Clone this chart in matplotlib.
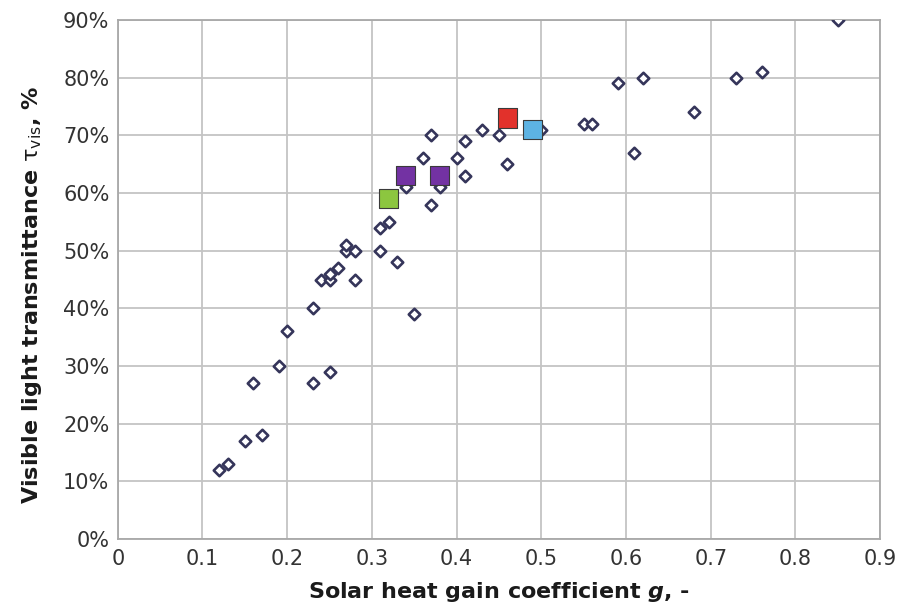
import matplotlib
matplotlib.use("Agg")
import matplotlib.pyplot as plt
from matplotlib.ticker import FuncFormatter

plt.rcParams['font.family'] = ['DejaVu Sans']
plt.rcParams['mathtext.fontset'] = 'custom'
plt.rcParams['mathtext.rm'] = 'DejaVu Sans'
plt.rcParams['mathtext.it'] = 'DejaVu Sans:italic:bold'
plt.rcParams['mathtext.bf'] = 'DejaVu Sans:bold'

# Measured glazing products (g, tau_vis %)
g_values = [0.12, 0.13, 0.15, 0.17, 0.16, 0.19, 0.20, 0.23, 0.25, 0.23,
            0.24, 0.25, 0.25, 0.26, 0.27, 0.27, 0.28, 0.28, 0.31, 0.31,
            0.32, 0.33, 0.35, 0.34, 0.36, 0.37, 0.37, 0.38, 0.40, 0.41,
            0.41, 0.43, 0.45, 0.46, 0.50, 0.55, 0.56, 0.59, 0.62, 0.61,
            0.68, 0.73, 0.76, 0.85]
tvis_values = [12, 13, 17, 18, 27, 30, 36, 27, 29, 40,
               45, 45, 46, 47, 50, 51, 50, 45, 50, 54,
               55, 48, 39, 61, 66, 70, 58, 61, 66, 69,
               63, 71, 70, 65, 71, 72, 72, 79, 80, 67,
               74, 80, 81, 90]

# Highlighted products
hl_g = [0.46, 0.49, 0.34, 0.38, 0.32]
hl_tvis = [73, 71, 63, 63, 59]
hl_colors = ['#e2312b', '#5db3e3', '#7332a3', '#7332a3', '#8cc63f']

x_ticks = [0, 0.1, 0.2, 0.3, 0.4, 0.5, 0.6, 0.7, 0.8, 0.9]
y_ticks = [0, 10, 20, 30, 40, 50, 60, 70, 80, 90]

fig = plt.figure(figsize=(8.99, 6.12), dpi=100)
ax = fig.add_axes([0.131, 0.1193, 0.848, 0.848])

ax.scatter(g_values, tvis_values, marker='D', s=34, facecolors='white',
           edgecolors='#35355a', linewidths=1.9, zorder=3)
ax.scatter(hl_g, hl_tvis, marker='s', s=190, c=hl_colors,
           edgecolors='#3a3a3a', linewidths=0.8, zorder=4)

ax.set_xlim(0, 0.9)
ax.set_ylim(0, 90)
ax.set_xticks(x_ticks)
ax.set_yticks(y_ticks)
ax.xaxis.set_major_formatter(FuncFormatter(lambda v, p: '0' if v == 0 else f'{v:.1f}'))
ax.yaxis.set_major_formatter(FuncFormatter(lambda v, p: f'{v:.0f}%'))
ax.grid(True, color='#c4c4c4', linewidth=1.3)
ax.set_axisbelow(True)
for s in ax.spines.values():
    s.set_color('#a8a8a8')
    s.set_linewidth(1.3)
ax.tick_params(length=0, labelsize=15, colors='#333333', pad=6)
ax.tick_params(axis='x', pad=7)

ax.set_ylabel(r'Visible light transmittance $\mathrm{\tau_{vis}}$, %',
              fontsize=16, fontweight='bold', color='#1a1a1a')
ax.yaxis.set_label_coords(-0.097, 0.47)
ax.set_xlabel(r'Solar heat gain coefficient $g$, -',
              fontsize=16, fontweight='bold', color='#1a1a1a', labelpad=8)

fig.savefig('out.png', dpi=100)
